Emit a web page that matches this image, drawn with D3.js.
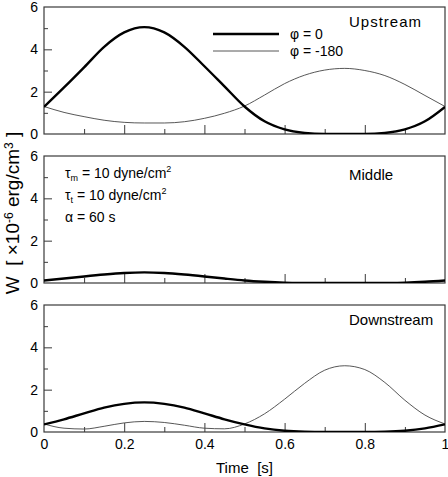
<!DOCTYPE html>
<html><head><meta charset="utf-8">
<script src="https://cdn.jsdelivr.net/npm/d3@7"></script>
<style>
body{margin:0;background:#fff}
text{font-family:"Liberation Sans",Arial,Helvetica,sans-serif;fill:#000}
</style>
</head><body><svg id="c" width="448" height="477"></svg>
<script>
// ---- data ----
const time = [0,0.05,0.1,0.15,0.2,0.25,0.3,0.35,0.4,0.45,0.5,0.55,0.6,0.65,0.7,0.75,0.8,0.85,0.9,0.95,1];
const upstreamPhi0    = [1.28,2.2,3.15,4.12,4.8,5.05,4.8,4.12,3.2,2.25,1.3,0.6,0.22,0.05,0.0,0.0,0.0,0.05,0.22,0.6,1.28];
const upstreamPhi180  = [1.3,1.02,0.82,0.65,0.55,0.52,0.52,0.58,0.74,0.98,1.32,1.84,2.38,2.78,3.02,3.1,3.0,2.76,2.34,1.82,1.3];
const middlePhi0      = [0.12,0.21,0.31,0.4,0.47,0.5,0.47,0.4,0.31,0.21,0.12,0.06,0.02,0.005,0,0,0,0.005,0.02,0.06,0.12];
const downstreamPhi0  = [0.36,0.6,0.88,1.15,1.33,1.4,1.33,1.15,0.88,0.6,0.36,0.17,0.06,0.013,0,0,0,0.013,0.06,0.17,0.36];
const downstreamPhi180= [0.38,0.18,0.14,0.27,0.43,0.5,0.45,0.32,0.18,0.15,0.38,0.86,1.55,2.3,2.92,3.13,2.95,2.34,1.5,0.8,0.38];
const panelNames = ["Upstream","Middle","Downstream"];
const legendLabels = ["φ = 0","φ = -180"];
const yMajor = [2,4];
const yLabels = [0,2,4,6];
const yMinor = [1,3,5];
const xMajor = [0.2,0.4,0.6,0.8];
const xMinor = [0.1,0.3,0.5,0.7,0.9];
const xLabels = [0,0.2,0.4,0.6,0.8,1];

const panels = [
  {name:panelNames[0], series:[{v:upstreamPhi0,thick:true},{v:upstreamPhi180,thick:false}], top:7, labelY:27},
  {name:panelNames[1], series:[{v:middlePhi0,thick:true}], top:156, labelY:180},
  {name:panelNames[2], series:[{v:downstreamPhi0,thick:true},{v:downstreamPhi180,thick:false}], top:305, labelY:325}
];

const svg = d3.select("#c");
const L = 44, R = 445, H = 127;
const x = d3.scaleLinear().domain([0,1]).range([L,R]);
const frameColor = "#3a3a3a";

panels.forEach((p,i)=>{
  const y = d3.scaleLinear().domain([0,6]).range([p.top+H,p.top]);
  const g = svg.append("g");
  const cid = "clip"+i;
  svg.append("clipPath").attr("id",cid).append("rect")
    .attr("x",L).attr("y",p.top).attr("width",R-L).attr("height",H);

  const ax = (axis, tx, ty) => {
    const a = g.append("g").attr("transform",`translate(${tx},${ty})`).call(axis);
    a.select(".domain").remove();
    a.selectAll("line").attr("stroke",frameColor).attr("stroke-width",1);
    a.selectAll("text").attr("font-size",14).attr("font-family",'"Liberation Sans",Arial,sans-serif').attr("fill","#000");
    return a;
  };
  ax(d3.axisBottom(x).tickValues(xMajor).tickSize(-9).tickFormat(""), 0, p.top+H);
  ax(d3.axisBottom(x).tickValues(xMinor).tickSize(-5).tickFormat(""), 0, p.top+H);
  ax(d3.axisLeft(y).tickValues(yMajor).tickSize(-8).tickFormat(""), L, 0);
  ax(d3.axisLeft(y).tickValues(yMinor).tickSize(-4).tickFormat(""), L, 0);
  ax(d3.axisLeft(y).tickValues(yLabels).tickSize(0).tickPadding(6).tickFormat(d3.format("d")), L, 0);
  if(i===2){
    ax(d3.axisBottom(x).tickValues(xLabels).tickSize(0).tickPadding(7).tickFormat(d=>String(d)), 0, p.top+H);
  }

  g.append("rect").attr("x",L).attr("y",p.top).attr("width",R-L).attr("height",H)
    .attr("fill","none").attr("stroke",frameColor).attr("stroke-width",1.2);

  const line = d3.line().x((d,k)=>x(time[k])).y(d=>y(d)).curve(d3.curveMonotoneX);
  p.series.slice().reverse().forEach(s=>{
    g.append("path").attr("d",line(s.v)).attr("fill","none")
      .attr("clip-path",`url(#${cid})`)
      .attr("stroke", s.thick ? "#000" : "#444")
      .attr("stroke-width", s.thick ? 2.4 : 0.9);
  });

  const lbl = g.append("text").attr("x",349).attr("y",p.labelY).attr("font-size",15).text(p.name);
  if(i===0) lbl.attr("textLength",72).attr("lengthAdjust","spacing");
});

// legend
const lg = svg.append("g");
[[34,2.4,"#000"],[51,0.9,"#444"]].forEach((d,k)=>{
  lg.append("line").attr("x1",213).attr("x2",279).attr("y1",d[0]).attr("y2",d[0])
    .attr("stroke",d[2]).attr("stroke-width",d[1]);
  lg.append("text").attr("x",290).attr("y",d[0]+5).attr("font-size",14).text(legendLabels[k]);
});

// annotations in middle panel
const ann = svg.append("g").attr("font-size",14);
function annot(yb, sym, sub, rest, sup){
  const t = ann.append("text").attr("x",65).attr("y",yb);
  t.append("tspan").text(sym);
  if(sub){ t.append("tspan").attr("font-size",9).attr("dy",3).text(sub); t.append("tspan").attr("dy",-3).text(rest); }
  else t.append("tspan").text(rest);
  if(sup){ t.append("tspan").attr("font-size",9).attr("dy",-6).text(sup); }
}
annot(178,"τ","m"," = 10 dyne/cm","2");
annot(200,"τ","t"," = 10 dyne/cm","2");
annot(222,"α",null," = 60 s",null);

// axis titles
svg.append("text").attr("x",(L+R)/2).attr("y",473).attr("text-anchor","middle")
  .attr("font-size",15).attr("xml:space","preserve").text("Time  [s]");
const yl = svg.append("text").attr("transform","translate(19,213) rotate(-90)")
  .attr("text-anchor","middle").attr("font-size",19).attr("xml:space","preserve");
yl.append("tspan").text("W  [ ×10");
yl.append("tspan").attr("font-size",12).attr("dy",-6).text("-6");
yl.append("tspan").attr("dy",6).text(" erg/cm");
yl.append("tspan").attr("font-size",12).attr("dy",-6).text("3");
yl.append("tspan").attr("dy",6).text(" ]");
</script>
</body></html>
